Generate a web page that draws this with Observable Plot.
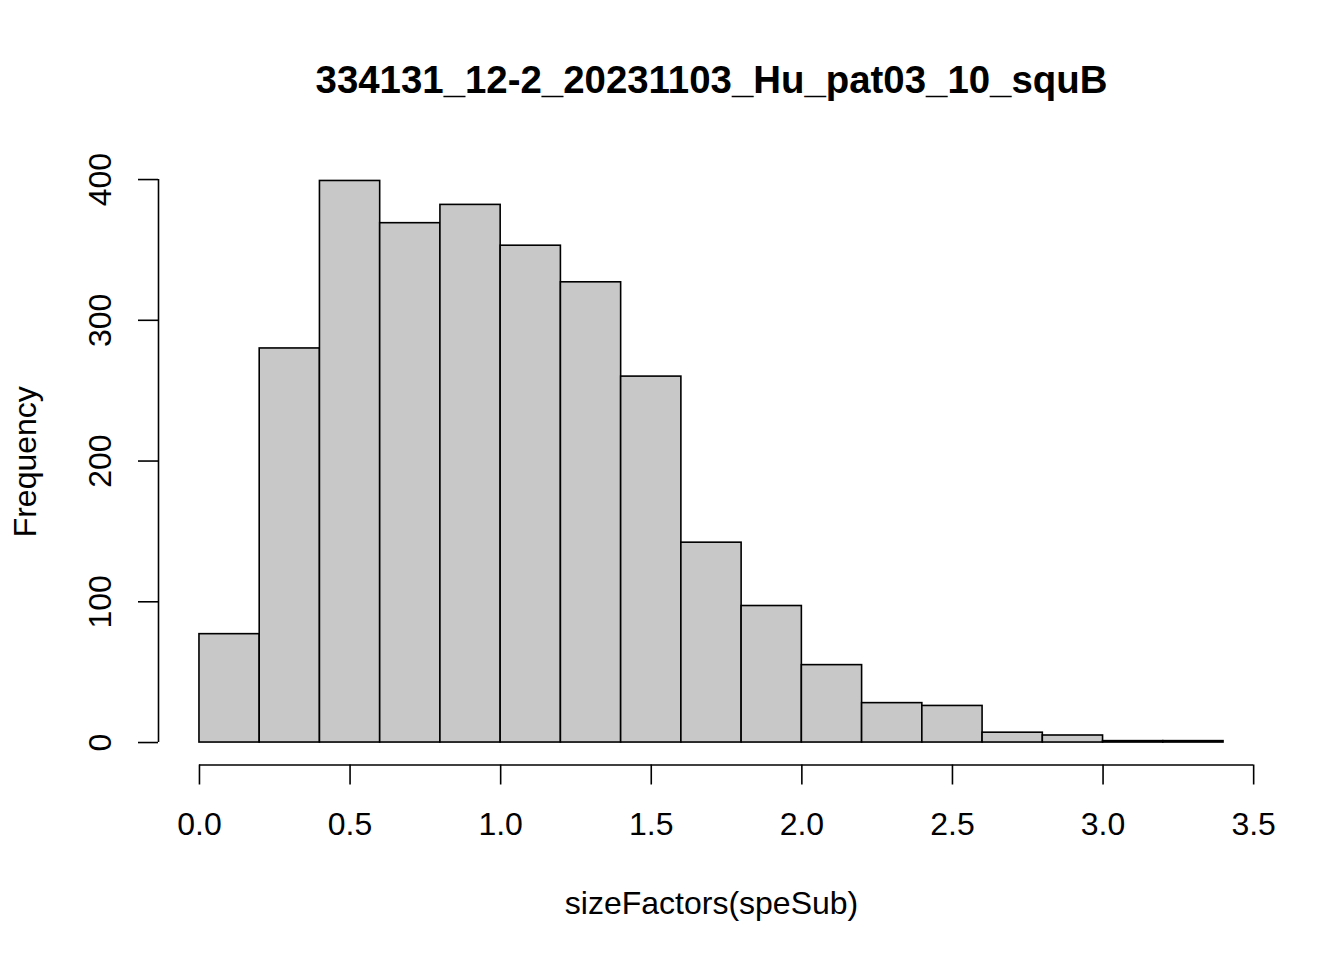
<!DOCTYPE html>
<html>
<head>
<meta charset="utf-8">
<script src="https://cdn.jsdelivr.net/npm/d3@7"></script>
<script src="https://cdn.jsdelivr.net/npm/@observablehq/plot@0.6"></script>
<style>
  html, body { margin: 0; padding: 0; background: #ffffff; }
  #chart svg { display: block; }
</style>
</head>
<body>
<div id="chart"></div>
<script>
const binStarts = [0.0, 0.2, 0.4, 0.6, 0.8, 1.0, 1.2, 1.4, 1.6, 1.8, 2.0, 2.2, 2.4, 2.6, 2.8, 3.0, 3.2];
const binWidth = 0.2;
const counts = [77, 280, 399, 369, 382, 353, 327, 260, 142, 97, 55, 28, 26, 7, 5, 1, 1];
const xTicks = [0.0, 0.5, 1.0, 1.5, 2.0, 2.5, 3.0, 3.5];
const yTicks = [0, 100, 200, 300, 400];
const titleText = "334131_12-2_20231103_Hu_pat03_10_squB";
const xLabel = "sizeFactors(speSub)";
const yLabel = "Frequency";

const bins = binStarts.map((s, i) => ({x1: s, x2: s + binWidth, count: counts[i]}));

const xMin = -0.136, xMax = 3.536;
const yMin = -15.96, yMax = 414.96;
const font = "32px";

const chart = Plot.plot({
  width: 1344,
  height: 960,
  marginLeft: 158,
  marginRight: 80,
  marginTop: 158,
  marginBottom: 195.5,
  style: {fontFamily: "'Liberation Sans', Arial, Helvetica, sans-serif", background: "#ffffff", color: "#000000", overflow: "visible"},
  x: {domain: [xMin, xMax]},
  y: {domain: [yMin, yMax]},
  marks: [
    Plot.rectY(bins, {x1: "x1", x2: "x2", y1: 0, y2: "count", fill: "#c8c8c8", stroke: "#000000", strokeWidth: 1.6}),
    Plot.ruleY([yMin], {x1: xTicks[0], x2: xTicks[xTicks.length - 1], stroke: "#000000", strokeWidth: 1.6}),
    Plot.ruleX([xMin], {y1: yTicks[0], y2: yTicks[yTicks.length - 1], stroke: "#000000", strokeWidth: 1.6}),
    Plot.axisX({ticks: xTicks, tickSize: 20, tickPadding: 27, tickFormat: d3.format(".1f"), fontSize: font, label: null, strokeWidth: 1.6}),
    Plot.axisY({ticks: yTicks, tickSize: 20, tickFormat: () => "", label: null, strokeWidth: 1.6}),
    Plot.text(yTicks, {x: () => xMin, y: d => d, text: d => String(d), rotate: -90, dx: -58, fontSize: font, lineAnchor: "middle", textAnchor: "middle"}),
    Plot.text([titleText], {text: d => d, frameAnchor: "top", dy: -78, lineAnchor: "middle", textAnchor: "middle", fontSize: "38.4px", fontWeight: "bold"}),
    Plot.text([xLabel], {text: d => d, frameAnchor: "bottom", dy: 138.5, lineAnchor: "middle", textAnchor: "middle", fontSize: font}),
    Plot.text([yLabel], {text: d => d, frameAnchor: "left", dx: -133, rotate: -90, lineAnchor: "middle", textAnchor: "middle", fontSize: font})
  ]
});
document.getElementById("chart").appendChild(chart);
</script>
</body>
</html>
